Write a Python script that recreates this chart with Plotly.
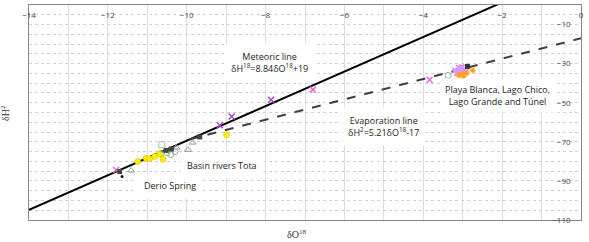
import plotly.graph_objects as go

# Regression lines (slope, intercept)
meteoric = [8.84, 19]
evaporation = [5.21, -17]

# Data series
lake_violet_x = [-3.20, -3.10, -3.05, -2.98, -3.15, -3.02, -2.92, -3.12, -3.00, -3.08, -2.95]
lake_violet_y = [-33.5, -32.0, -34.5, -33.0, -35.0, -31.8, -34.0, -33.8, -35.5, -32.8, -33.2]
lake_orange_x = [-3.05, -2.98, -2.90, -3.10, -2.75]
lake_orange_y = [-35.5, -36.5, -34.8, -36.0, -33.4]
lake_black_x = [-2.88]
lake_black_y = [-31.4]

pink_x = [-6.8, -3.84, -11.79]
pink_y = [-43.3, -38.2, -84.4]
purple_x = [-7.86, -8.86, -9.16]
purple_y = [-48.5, -57.0, -61.5]

yellow_x = [-8.99, -11.24, -11.03, -10.94, -10.81, -10.69, -10.60]
yellow_y = [-66.4, -80.1, -78.4, -78.7, -77.5, -76.2, -78.9]

green_sq_x = [-10.63]
green_sq_y = [-71.5]
green_ci_x = [-10.65, -10.50, -10.40, -10.30, -3.37]
green_ci_y = [-76.0, -75.5, -76.5, -75.0, -36.0]

tri_x = [-9.97, -11.41, -9.85, -10.26]
tri_y = [-74.1, -84.7, -70.4, -72.9]

dark_x = [-10.52, -10.39, -11.70, -9.67]
dark_y = [-74.4, -73.7, -85.2, -67.5]
dot_x = [-11.64]
dot_y = [-87.8]

x_ticks = [-14, -12, -10, -8, -6, -4, -2, 0]
y_ticks = [-10, -30, -50, -70, -90, -110]

fig = go.Figure()

# Lines
mx = [-14, 0]
fig.add_trace(go.Scatter(x=mx, y=[meteoric[0] * v + meteoric[1] for v in mx],
                         mode="lines", line=dict(color="black", width=2), showlegend=False))
x0 = (evaporation[1] - meteoric[1]) / (meteoric[0] - evaporation[0])
ex = [x0, 0]
fig.add_trace(go.Scatter(x=ex, y=[evaporation[0] * v + evaporation[1] for v in ex],
                         mode="lines", line=dict(color="#404040", width=2, dash="dash"),
                         showlegend=False))

def pts(x, y, **marker):
    fig.add_trace(go.Scatter(x=x, y=y, mode="markers", marker=marker, showlegend=False))

pts(lake_violet_x, lake_violet_y, symbol="x-thin", size=5, line=dict(color="#cc77ee", width=1.5))
pts(lake_violet_x, lake_violet_y, symbol="circle", size=4, color="#dd99ff")
pts(lake_orange_x, lake_orange_y, symbol="asterisk", size=5, line=dict(color="#ffa020", width=1.2))
pts(lake_black_x, lake_black_y, symbol="square", size=5, color="#333333")
pts(pink_x, pink_y, symbol="x-thin", size=6, line=dict(color="#ee66cc", width=1.5))
pts(purple_x, purple_y, symbol="x-thin", size=6, line=dict(color="#aa44cc", width=1.5))
pts(tri_x, tri_y, symbol="triangle-up-open", size=6, color="#999999")
pts(green_sq_x, green_sq_y, symbol="square-open", size=6, color="#99cc99")
pts(green_ci_x, green_ci_y, symbol="circle-open", size=6, color="#88bb88")
pts(dark_x, dark_y, symbol="square", size=5, color="#444444")
pts(dot_x, dot_y, symbol="circle", size=3, color="#111111")
pts(yellow_x, yellow_y, symbol="circle", size=6, color="#ffee00", line=dict(color="#ccbb00", width=0.5))

ann_font = dict(family="Open Sans, Arial", size=9, color="#222222")
fig.add_annotation(x=-7.89, y=-29.5, text="Meteoric line<br>δH<sup>18</sup>=8.84δO<sup>18</sup>+19",
                   showarrow=False, bgcolor="white", font=ann_font, borderpad=6)
fig.add_annotation(x=-5.01, y=-62.3, text="Evaporation line<br>δH<sup>2</sup>=5.21δO<sup>18</sup>-17",
                   showarrow=False, bgcolor="white", font=ann_font, borderpad=6)
fig.add_annotation(x=-2.11, y=-46.4, text="Playa Blanca, Lago Chico,<br>Lago Grande and Túnel",
                   showarrow=False, bgcolor="white", font=ann_font, borderpad=4)
fig.add_annotation(x=-9.11, y=-82, text="Basin rivers Tota",
                   showarrow=False, bgcolor="white", font=ann_font, borderpad=6)
fig.add_annotation(x=-10.43, y=-92.2, text="Derio Spring",
                   showarrow=False, bgcolor="white", font=ann_font, borderpad=6)

title_font = dict(family="Liberation Serif, Times New Roman", size=10, color="#333333")
fig.add_annotation(xref="paper", yref="paper", x=0.485, y=-0.03, yanchor="top",
                   text="δO<sup>18</sup>", showarrow=False, font=title_font)
fig.add_annotation(xref="paper", yref="paper", x=-0.03, y=0.5, xanchor="right",
                   text="δH<sup>2</sup>", textangle=-90, showarrow=False, font=title_font)

fig.update_layout(
    width=589, height=242,
    margin=dict(l=29, r=6, t=5, b=22),
    paper_bgcolor="white", plot_bgcolor="white",
    xaxis=dict(range=[-14, 0], side="top", tickvals=x_ticks, ticklabelposition="inside",
               ticklabeloverflow="allow", ticklabelstandoff=6,
               tickfont=dict(family="Open Sans, Arial", size=8, color="#444444"),
               showgrid=True, gridcolor="#dddddd", gridwidth=1,
               minor=dict(dtick=1, showgrid=True, gridcolor="#dddddd"),
               showline=True, linecolor="#888888", linewidth=1, mirror=True,
               zeroline=False, ticks=""),
    yaxis=dict(range=[-110, 0], side="right", tickvals=y_ticks, ticklabelposition="inside",
               ticklabeloverflow="allow", ticklabelstandoff=9,
               tickfont=dict(family="Open Sans, Arial", size=8, color="#444444"),
               showgrid=True, gridcolor="#d0d0d0", griddash="dot",
               minor=dict(dtick=5, tick0=0, showgrid=True, gridcolor="#d0d0d0", griddash="dot"),
               showline=True, linecolor="#888888", linewidth=1, mirror=True,
               zeroline=False, ticks=""),
)

fig.write_html("out.html", config={"displayModeBar": False},
               post_script="document.body.style.margin='0';")
